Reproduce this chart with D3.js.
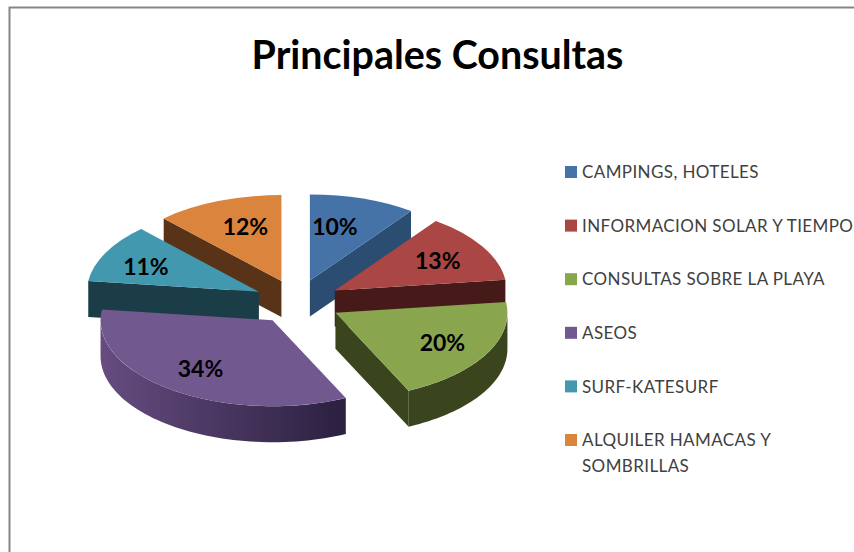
<!DOCTYPE html>
<meta charset="utf-8">
<style>
html, body { margin: 0; background: #fff; }
svg { display: block; }
text { font-family: Lato, "Open Sans", sans-serif; }
</style>
<svg></svg>
<script src="https://d3js.org/d3.v7.min.js"></script>
<script>

// values (percent labels)
const categories = ["CAMPINGS, HOTELES", "INFORMACION SOLAR Y TIEMPO", "CONSULTAS SOBRE LA PLAYA", "ASEOS", "SURF-KATESURF", "ALQUILER HAMACAS Y SOMBRILLAS"];
const values = [10, 13, 20, 34, 11, 12];
const topColors = ["#4572a7", "#aa4643", "#89a54e", "#71588f", "#4198af", "#db843d"];
const wallColors = ["#2c4d72", "#451a18", "#3a451e", "#2b2040", "#1b3d47", "#593317"];
// order slices get painted in, back to front
const paintOrder = [0, 5, 1, 4, 2, 3];
// label offset from each slice apex
const labelOffsets = [[25, -54], [103, -30], [107, 30], [-72, 49], [-113, -25], [-36, -54]];
// small corrections to where each slice landed
const sliceNudge = [[-1, 0], [-1, 0], [-1, 0], [2, 0], [2, 0], [1, 0]];

const width = 854, height = 552;
const cx = 297, cy = 302;      // centre of the unexploded pie
const rx = 172, ry = 86;       // ellipse of the tilted top
const depth = 36, explode = 45;

const svg = d3.select("svg").attr("width", width).attr("height", height);

// chart frame, runs off the right and bottom of the page
svg.append("path")
  .attr("d", `M${width + 5},7.5H9.5V${height + 5}`)
  .attr("fill", "none")
  .attr("stroke", "#868686")
  .attr("stroke-width", 2);

svg.append("text")
  .attr("x", 437.5).attr("y", 69)
  .attr("text-anchor", "middle")
  .attr("font-size", 39.4).attr("font-weight", 700)
  .attr("fill", "#000")
  .text("Principales Consultas");

const pie = d3.pie().sort(null)(values);
const arc = d3.arc().innerRadius(0).outerRadius(rx);
const line = d3.line();

const defs = svg.append("defs");

function apexOf(d) {
  const mid = (d.startAngle + d.endAngle) / 2;
  const n = sliceNudge[d.index];
  return [cx + n[0] + explode * Math.sin(mid), cy + n[1] - explode * (ry / rx) * Math.cos(mid)];
}

function rimPoint(apex, a) {
  return [apex[0] + rx * Math.sin(a), apex[1] - ry * Math.cos(a)];
}

// a wall along one straight edge of the slice
function edgeWall(apex, a) {
  const p = rimPoint(apex, a);
  return line([apex, p, [p[0], p[1] + depth], [apex[0], apex[1] + depth]]) + "Z";
}

// the part of the outer rim that faces the viewer (90 to 270 degrees)
function rimWall(apex, d) {
  const a0 = Math.max(d.startAngle, Math.PI / 2);
  const a1 = Math.min(d.endAngle, Math.PI * 1.5);
  if (a1 <= a0) return null;
  const angles = d3.range(0, 61).map(i => a0 + (a1 - a0) * i / 60);
  const upper = angles.map(a => rimPoint(apex, a));
  const lower = upper.map(p => [p[0], p[1] + depth]).reverse();
  return line(upper.concat(lower)) + "Z";
}

// the front edge walls only show when they face down
function facesViewer(a, side) {
  return Math.cos(a + side * Math.PI / 2) < 0;
}

paintOrder.forEach(i => {
  const d = pie[i];
  const apex = apexOf(d);
  const g = svg.append("g").attr("class", "slice");

  [[d.startAngle, -1], [d.endAngle, 1]].forEach(([a, side]) => {
    if (facesViewer(a, side)) {
      g.append("path").attr("d", edgeWall(apex, a)).attr("fill", wallColors[i]);
    }
  });

  const rim = rimWall(apex, d);
  if (rim) {
    const id = "rim" + i;
    const a0 = Math.max(d.startAngle, Math.PI / 2), a1 = Math.min(d.endAngle, Math.PI * 1.5);
    const grad = defs.append("linearGradient").attr("id", id)
      .attr("gradientUnits", "userSpaceOnUse")
      .attr("x1", rimPoint(apex, a0)[0]).attr("x2", rimPoint(apex, a1)[0]).attr("y1", 0).attr("y2", 0);
    // only the big slice fades towards the left, the green one stays flat
    grad.append("stop").attr("offset", 0).attr("stop-color", wallColors[i]);
    grad.append("stop").attr("offset", 1).attr("stop-color", i === 3 ? "#664c80" : wallColors[i]);
    g.append("path").attr("d", rim).attr("fill", `url(#${id})`);
  }

  g.append("path")
    .attr("d", arc(d))
    .attr("transform", `translate(${apex[0]},${apex[1]}) scale(1,${ry / rx})`)
    .attr("fill", topColors[i]);

  g.append("text")
    .attr("x", apex[0] + labelOffsets[i][0])
    .attr("y", apex[1] + labelOffsets[i][1])
    .attr("dy", "0.36em")
    .attr("text-anchor", "middle")
    .attr("font-size", 23).attr("font-weight", 700)
    .attr("fill", "#000")
    .text(d.value + "%");
});

// legend
const legendY = d3.scalePoint().domain(categories).range([172, 440]);
const legend = svg.append("g").selectAll("g").data(categories).enter().append("g")
  .attr("transform", d => `translate(565,${legendY(d)})`);

legend.append("rect")
  .attr("x", 0).attr("y", -6)
  .attr("width", 12).attr("height", 12)
  .attr("fill", (d, i) => topColors[i]);

legend.append("text")
  .attr("x", 17)
  .attr("font-size", 17)
  .attr("letter-spacing", 0.4)
  .attr("fill", "#404040")
  .each(function(d) {
    // the last entry wraps, as in the original legend box
    const lines = d === "ALQUILER HAMACAS Y SOMBRILLAS" ? ["ALQUILER HAMACAS Y", "SOMBRILLAS"] : [d];
    d3.select(this).selectAll("tspan").data(lines).enter().append("tspan")
      .attr("x", 17)
      .attr("y", (l, j) => j * 26)
      .attr("dy", "0.36em")
      .text(l => l);
  });

</script>
